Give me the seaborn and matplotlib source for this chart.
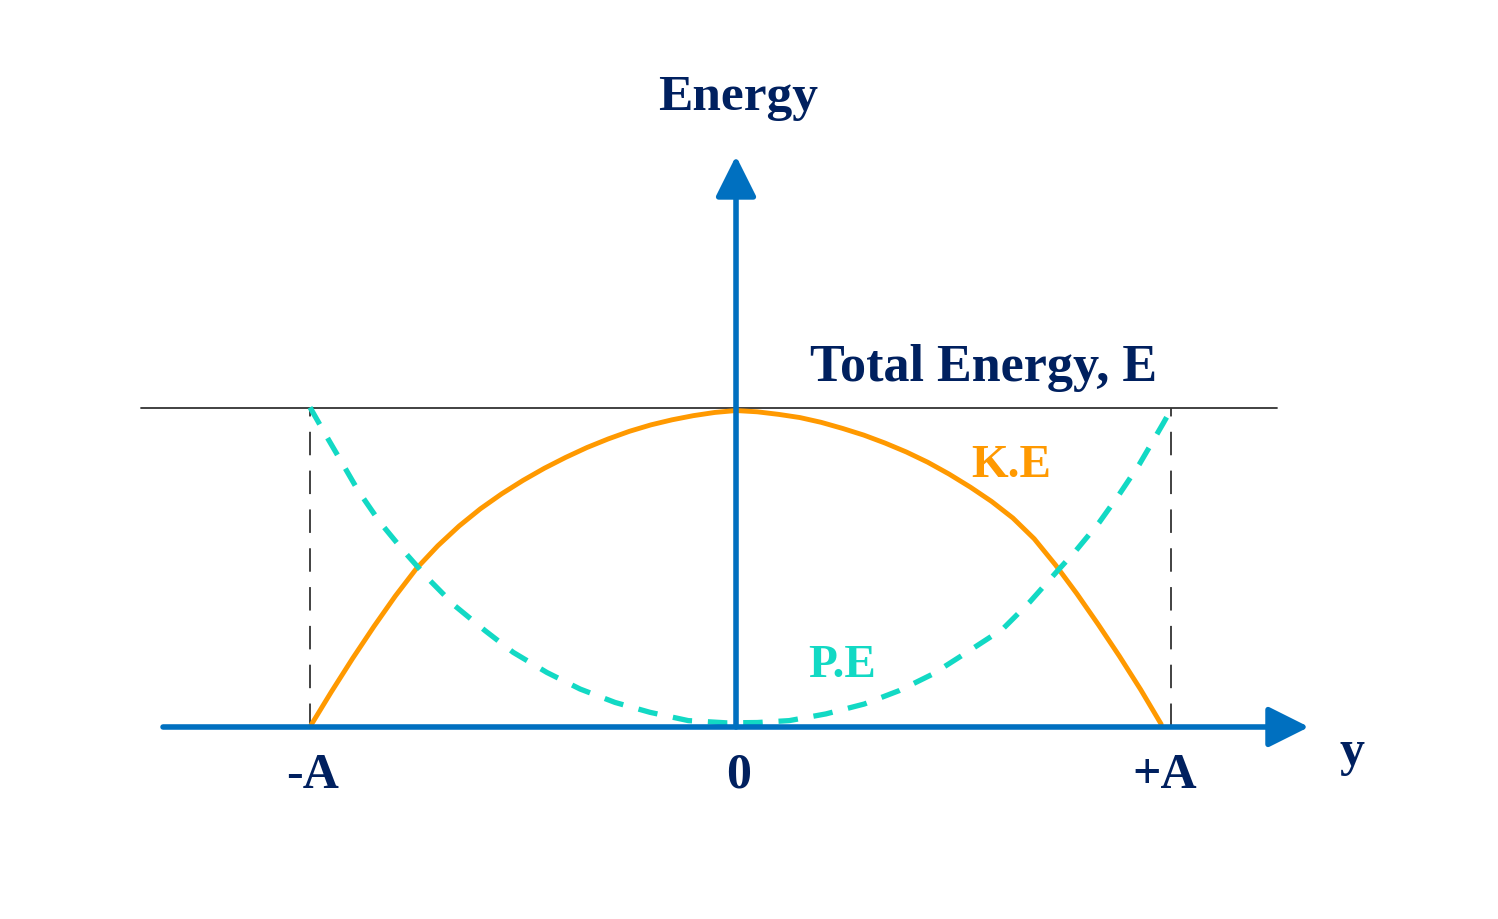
import matplotlib
matplotlib.use("Agg")
import matplotlib.pyplot as plt
import seaborn as sns
import pandas as pd

# ---- data (displacement in units of A, energy in units of E) ----
ke_pos = [-0.998, -0.95, -0.90, -0.85, -0.80, -0.75, -0.70, -0.65, -0.60, -0.55, -0.50,
          -0.45, -0.40, -0.35, -0.30, -0.25, -0.20, -0.15, -0.10, -0.05, 0.00,
          0.05, 0.10, 0.15, 0.20, 0.25, 0.30, 0.35, 0.40, 0.45, 0.50,
          0.55, 0.60, 0.65, 0.70, 0.75, 0.80, 0.85, 0.90, 0.95, 0.998]
ke_val = [0.005, 0.110, 0.215, 0.315, 0.410, 0.497, 0.568, 0.630, 0.684, 0.731, 0.773,
          0.811, 0.845, 0.876, 0.903, 0.927, 0.947, 0.963, 0.976, 0.986, 0.992,
          0.988, 0.980, 0.970, 0.955, 0.936, 0.915, 0.890, 0.862, 0.830, 0.793,
          0.752, 0.707, 0.655, 0.590, 0.508, 0.418, 0.322, 0.222, 0.117, 0.009]
pe_pos = [-1.000, -0.965, -0.930, -0.887, -0.836, -0.781, -0.722, -0.660, -0.589, -0.523,
          -0.444, -0.366, -0.284, -0.202, -0.112, -0.022, 0.050,
          0.125, 0.211, 0.301, 0.383, 0.462, 0.536, 0.626, 0.689, 0.755,
          0.798, 0.853, 0.900, 0.947, 0.975, 1.002, 1.013]
pe_val = [1.002, 0.920, 0.840, 0.741, 0.642, 0.553, 0.464, 0.380, 0.302, 0.234,
          0.171, 0.119, 0.077, 0.046, 0.020, 0.013, 0.014,
          0.020, 0.041, 0.072, 0.114, 0.166, 0.229, 0.307, 0.391, 0.490,
          0.553, 0.642, 0.730, 0.824, 0.888, 0.950, 0.976]
total_energy = 1.0
amplitude_marks = [-1.0, 1.02]
tick_positions = [-1.0, 0.0, 1.0]
tick_labels = ["-A", "0", "+A"]

ke_df = pd.DataFrame({"y": ke_pos, "energy": ke_val})
pe_df = pd.DataFrame({"y": pe_pos, "energy": pe_val})

sns.set_theme(style="white")
plt.rcParams["font.family"] = ["Liberation Serif", "DejaVu Serif"]

NAVY = "#00205f"
BLUE = "#0070c0"
ORANGE = "#ff9900"
TEAL = "#12d9c4"

XLIM = (-1.7277, 1.7887)
YLIM = (-0.6019, 2.2821)

fig = plt.figure(figsize=(14.98, 9.2), dpi=100)
ax = fig.add_axes([0, 0, 1, 1])

# total energy line
ax.plot([-1.397, 1.270], [total_energy, total_energy], color="#333333", lw=1.3, zorder=2)
# amplitude markers
for xm in amplitude_marks:
    ax.plot([xm, xm], [0, total_energy], color="#333333", lw=1.3,
            dashes=(13, 8.5), zorder=1)

# curves
sns.lineplot(data=ke_df, x="y", y="energy", ax=ax, color=ORANGE, lw=3.5, zorder=3,
             sort=False, estimator=None)
ax.lines[-1].set_solid_joinstyle("round")
sns.lineplot(data=pe_df, x="y", y="energy", ax=ax, color=TEAL, lw=3.8, zorder=3,
             sort=False, estimator=None)
pe_line = ax.lines[-1]
pe_line.set_dashes((3.7, 3.0))
pe_line.set_dash_capstyle("butt")
ax.set_xlim(*XLIM)
ax.set_ylim(*YLIM)
ax.axis("off")

# axes with arrows
head = "-|>,head_length=1.0,head_width=0.5"
ax.annotate("", xy=(1.345, 0), xytext=(-1.345, 0),
            arrowprops=dict(arrowstyle=head, mutation_scale=25, lw=4.0,
                            color=BLUE, shrinkA=0, shrinkB=0), zorder=4)
ax.annotate("", xy=(0, 1.79), xytext=(0, 0),
            arrowprops=dict(arrowstyle=head, mutation_scale=25, lw=4.0,
                            color=BLUE, shrinkA=0, shrinkB=0), zorder=4)

# labels
ax.text(0.005, 1.937, "Energy", color=NAVY, fontsize=37, fontweight="bold",
        ha="center", va="baseline")
ax.text(0.582, 1.087, "Total Energy, E", color=NAVY, fontsize=37.5, fontweight="bold",
        ha="center", va="baseline")
ax.text(0.647, 0.787, "K.E", color=ORANGE, fontsize=34, fontweight="bold",
        ha="center", va="baseline")
ax.text(0.249, 0.16, "P.E", color=TEAL, fontsize=34, fontweight="bold",
        ha="center", va="baseline")
for p, lab in zip(tick_positions, tick_labels):
    ax.text(p + 0.007, -0.188, lab, color=NAVY, fontsize=36, fontweight="bold",
            ha="center", va="baseline")
ax.text(1.447, -0.115, "y", color=NAVY, fontsize=36, fontweight="bold",
        ha="center", va="baseline")

fig.savefig("out.png", dpi=100)
